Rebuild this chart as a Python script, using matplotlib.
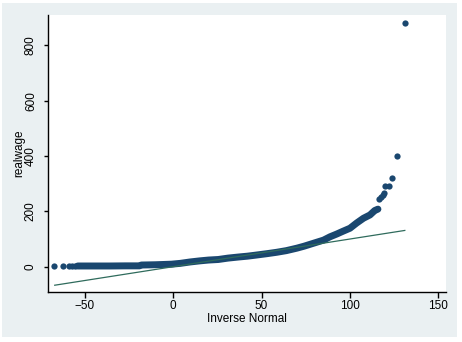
import matplotlib
matplotlib.use("Agg")
import matplotlib.pyplot as plt
from matplotlib.patches import Rectangle

# sorted realwage against inverse normal quantiles
body_x = [-54, -45, -36, -27, -19, -18, -10, -1, 4, 9.5, 15, 20, 25.5, 31, 37, 42,
          47, 53, 58.5, 64, 70, 74, 77.5, 81, 85, 88.7, 92.5, 96, 100, 103.8,
          107.6, 111.3, 114, 115.8]
body_y = [2.5, 2.5, 2.5, 3, 3, 6, 7, 9, 12, 17, 21, 24, 26, 31, 35, 38,
          42, 47, 52, 58, 67, 74, 81, 88, 96, 108, 118, 128, 139, 158,
          175, 187, 203, 208]

tail_x = [-67.4, -62.4, -59.2, -57.3, -55.8,
          116.5, 117.5, 118.5, 119.2, 119.8, 121.8, 123.5, 126.4, 131.1]
tail_y = [2, 2, 2, 2, 2,
          243, 252, 260, 265, 293, 293, 319, 401, 881]

# reference line y = x over the range of the normal quantiles
ref_x = [-67, 131]
ref_y = [-67, 131]

xticks = [-50, 0, 50, 100, 150]
yticks = [0, 200, 400, 600, 800]

navy = "#1a476f"
teal = "#2f6b5c"
bg = "#eaf0f2"

plt.rcParams["font.family"] = ["Liberation Sans", "DejaVu Sans"]
plt.rcParams["font.size"] = 8.5

fig = plt.figure(figsize=(4.62, 3.42), dpi=100, facecolor="white")
fig.patches.append(Rectangle((2 / 462, 5 / 342), 455 / 462, 334 / 342,
                             transform=fig.transFigure, facecolor=bg,
                             edgecolor="none", zorder=-10))

ax = fig.add_axes([48 / 462, 50 / 342, 398 / 462, 277 / 342])
ax.set_facecolor("white")

# thick band of overlapping points in the middle, isolated points in the tails
ax.plot(body_x, body_y, color=navy, lw=5.0, solid_capstyle="round",
        solid_joinstyle="round", zorder=3)
ax.plot(tail_x, tail_y, linestyle="none", color=navy, marker="o", ms=4.5,
        markeredgewidth=0, zorder=3)
ax.plot(ref_x, ref_y, color=teal, lw=0.9, zorder=4)

ax.set_xlim(-70.8, 154.3)
ax.set_ylim(-91.5, 909.7)
ax.set_xticks(xticks)
ax.set_yticks(yticks)

for side in ("top", "right"):
    ax.spines[side].set_visible(False)
for side in ("left", "bottom"):
    ax.spines[side].set_linewidth(1.0)
    ax.spines[side].set_color("black")

ax.tick_params(axis="x", length=4, width=1.0, pad=2)
ax.tick_params(axis="y", length=3, width=1.0, pad=5, labelrotation=90)
for lbl in ax.get_yticklabels():
    lbl.set_va("center")

ax.set_xlabel("Inverse Normal")
ax.set_ylabel("realwage")
ax.xaxis.set_label_coords(0.5, -0.077)
ax.yaxis.set_label_coords(-0.058, 0.5)

fig.savefig("out.png", dpi=100, facecolor="white")
